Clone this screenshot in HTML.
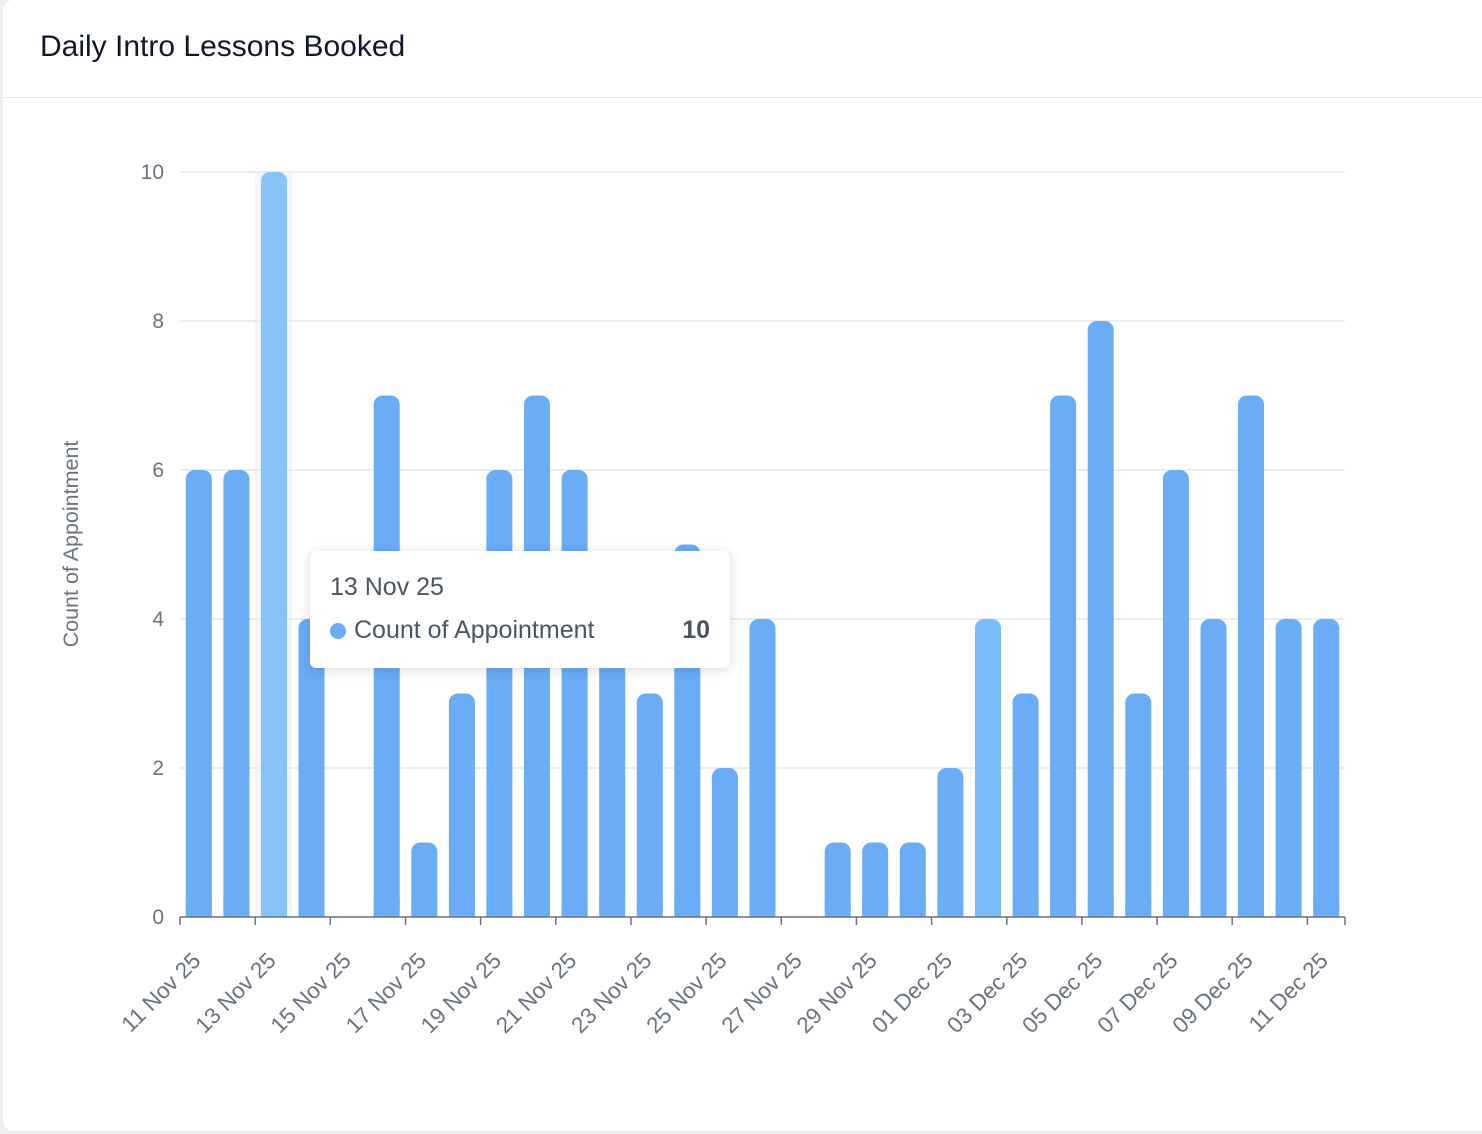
<!DOCTYPE html>
<html><head><meta charset="utf-8"><style>
html,body{margin:0;padding:0;background:#eceef2;}
body{width:1482px;height:1134px;overflow:hidden;position:relative;font-family:"Liberation Sans",sans-serif;}
.card{position:absolute;left:3px;top:0;width:1490px;height:1131px;background:#fff;border-radius:10px;}
.title{position:absolute;left:40px;top:30px;font-size:30px;color:#111827;}
.hr{position:absolute;left:3px;top:97px;width:1479px;height:1px;background:#e5e7eb;}
.tip{position:absolute;left:310px;top:551px;width:420px;height:117px;background:#fff;border-radius:6px;box-shadow:0 2px 12px rgba(0,0,0,0.15);}
</style></head><body>
<div class="card"></div>
<div class="title">Daily Intro Lessons Booked</div>
<div class="hr"></div>
<svg width="1482" height="1134" style="position:absolute;left:0;top:0" font-family="Liberation Sans, sans-serif">
<rect x="255" y="172" width="37" height="745" fill="#f3f5f8"/>
<g stroke="#e3e8f0" stroke-width="1.5">
<line x1="180" x2="1345" y1="172" y2="172"/><line x1="180" x2="1345" y1="321" y2="321"/><line x1="180" x2="1345" y1="470" y2="470"/><line x1="180" x2="1345" y1="619" y2="619"/><line x1="180" x2="1345" y1="768" y2="768"/>
</g>
<g fill="#6b7280" font-size="21" text-anchor="end">
<text x="164" y="179">10</text><text x="164" y="328">8</text><text x="164" y="477">6</text><text x="164" y="626">4</text><text x="164" y="775">2</text><text x="164" y="924">0</text>
</g>
<text transform="translate(78,544) rotate(-90)" text-anchor="middle" fill="#6b7280" font-size="21.5">Count of Appointment</text>
<g fill="#6aacf6">
<rect x="185.8" y="470" width="26" height="447" rx="9"/><rect x="185.8" y="900" width="26" height="17"/>
<rect x="223.4" y="470" width="26" height="447" rx="9"/><rect x="223.4" y="900" width="26" height="17"/>
<rect x="261.0" y="172" width="26" height="745" rx="9" fill="#86c4f8"/><rect x="261.0" y="900" width="26" height="17" fill="#86c4f8"/>
<rect x="298.5" y="619" width="26" height="298" rx="9"/><rect x="298.5" y="900" width="26" height="17"/>
<rect x="373.7" y="395.5" width="26" height="521.5" rx="9"/><rect x="373.7" y="900" width="26" height="17"/>
<rect x="411.3" y="842.5" width="26" height="74.5" rx="9"/><rect x="411.3" y="900" width="26" height="17"/>
<rect x="448.9" y="693.5" width="26" height="223.5" rx="9"/><rect x="448.9" y="900" width="26" height="17"/>
<rect x="486.4" y="470" width="26" height="447" rx="9"/><rect x="486.4" y="900" width="26" height="17"/>
<rect x="524.0" y="395.5" width="26" height="521.5" rx="9"/><rect x="524.0" y="900" width="26" height="17"/>
<rect x="561.6" y="470" width="26" height="447" rx="9"/><rect x="561.6" y="900" width="26" height="17"/>
<rect x="599.2" y="619" width="26" height="298" rx="9"/><rect x="599.2" y="900" width="26" height="17"/>
<rect x="636.8" y="693.5" width="26" height="223.5" rx="9"/><rect x="636.8" y="900" width="26" height="17"/>
<rect x="674.3" y="544.5" width="26" height="372.5" rx="9"/><rect x="674.3" y="900" width="26" height="17"/>
<rect x="711.9" y="768" width="26" height="149" rx="9"/><rect x="711.9" y="900" width="26" height="17"/>
<rect x="749.5" y="619" width="26" height="298" rx="9"/><rect x="749.5" y="900" width="26" height="17"/>
<rect x="824.7" y="842.5" width="26" height="74.5" rx="9"/><rect x="824.7" y="900" width="26" height="17"/>
<rect x="862.2" y="842.5" width="26" height="74.5" rx="9"/><rect x="862.2" y="900" width="26" height="17"/>
<rect x="899.8" y="842.5" width="26" height="74.5" rx="9"/><rect x="899.8" y="900" width="26" height="17"/>
<rect x="937.4" y="768" width="26" height="149" rx="9"/><rect x="937.4" y="900" width="26" height="17"/>
<rect x="975.0" y="619" width="26" height="298" rx="9" fill="#79bcf9"/><rect x="975.0" y="900" width="26" height="17" fill="#79bcf9"/>
<rect x="1012.6" y="693.5" width="26" height="223.5" rx="9"/><rect x="1012.6" y="900" width="26" height="17"/>
<rect x="1050.1" y="395.5" width="26" height="521.5" rx="9"/><rect x="1050.1" y="900" width="26" height="17"/>
<rect x="1087.7" y="321" width="26" height="596" rx="9"/><rect x="1087.7" y="900" width="26" height="17"/>
<rect x="1125.3" y="693.5" width="26" height="223.5" rx="9"/><rect x="1125.3" y="900" width="26" height="17"/>
<rect x="1162.9" y="470" width="26" height="447" rx="9"/><rect x="1162.9" y="900" width="26" height="17"/>
<rect x="1200.5" y="619" width="26" height="298" rx="9"/><rect x="1200.5" y="900" width="26" height="17"/>
<rect x="1238.0" y="395.5" width="26" height="521.5" rx="9"/><rect x="1238.0" y="900" width="26" height="17"/>
<rect x="1275.6" y="619" width="26" height="298" rx="9"/><rect x="1275.6" y="900" width="26" height="17"/>
<rect x="1313.2" y="619" width="26" height="298" rx="9"/><rect x="1313.2" y="900" width="26" height="17"/>
</g>
<g stroke="#6b7280" stroke-width="1.5">
<line x1="180" x2="1345" y1="917" y2="917"/>
<line x1="180" x2="180" y1="917" y2="925"/><line x1="255.2" x2="255.2" y1="917" y2="925"/><line x1="330.3" x2="330.3" y1="917" y2="925"/><line x1="405.5" x2="405.5" y1="917" y2="925"/><line x1="480.6" x2="480.6" y1="917" y2="925"/><line x1="555.8" x2="555.8" y1="917" y2="925"/><line x1="631" x2="631" y1="917" y2="925"/><line x1="706.1" x2="706.1" y1="917" y2="925"/><line x1="781.3" x2="781.3" y1="917" y2="925"/><line x1="856.4" x2="856.4" y1="917" y2="925"/><line x1="931.6" x2="931.6" y1="917" y2="925"/><line x1="1006.8" x2="1006.8" y1="917" y2="925"/><line x1="1081.9" x2="1081.9" y1="917" y2="925"/><line x1="1157.1" x2="1157.1" y1="917" y2="925"/><line x1="1232.2" x2="1232.2" y1="917" y2="925"/><line x1="1307.4" x2="1307.4" y1="917" y2="925"/><line x1="1345" x2="1345" y1="917" y2="925"/>
</g>
<g fill="#6b7280" font-size="22.5" text-anchor="end">
<text transform="translate(202,962) rotate(-45)">11 Nov 25</text>
<text transform="translate(277.2,962) rotate(-45)">13 Nov 25</text>
<text transform="translate(352.3,962) rotate(-45)">15 Nov 25</text>
<text transform="translate(427.5,962) rotate(-45)">17 Nov 25</text>
<text transform="translate(502.6,962) rotate(-45)">19 Nov 25</text>
<text transform="translate(577.8,962) rotate(-45)">21 Nov 25</text>
<text transform="translate(653,962) rotate(-45)">23 Nov 25</text>
<text transform="translate(728.1,962) rotate(-45)">25 Nov 25</text>
<text transform="translate(803.3,962) rotate(-45)">27 Nov 25</text>
<text transform="translate(878.4,962) rotate(-45)">29 Nov 25</text>
<text transform="translate(953.6,962) rotate(-45)">01 Dec 25</text>
<text transform="translate(1028.8,962) rotate(-45)">03 Dec 25</text>
<text transform="translate(1103.9,962) rotate(-45)">05 Dec 25</text>
<text transform="translate(1179.1,962) rotate(-45)">07 Dec 25</text>
<text transform="translate(1254.2,962) rotate(-45)">09 Dec 25</text>
<text transform="translate(1329.4,962) rotate(-45)">11 Dec 25</text>
</g>
</svg>
<div class="tip">
<div style="position:absolute;left:20px;top:22px;font-size:25px;color:#4b5563;">13 Nov 25</div>
<div style="position:absolute;left:20px;top:72px;width:16px;height:16px;border-radius:50%;background:#6aacf6;"></div>
<div style="position:absolute;left:44px;top:65px;font-size:25px;color:#4b5563;">Count of Appointment</div>
<div style="position:absolute;right:20px;top:65px;font-size:25px;font-weight:bold;color:#4b5563;">10</div>
</div>
</body></html>
